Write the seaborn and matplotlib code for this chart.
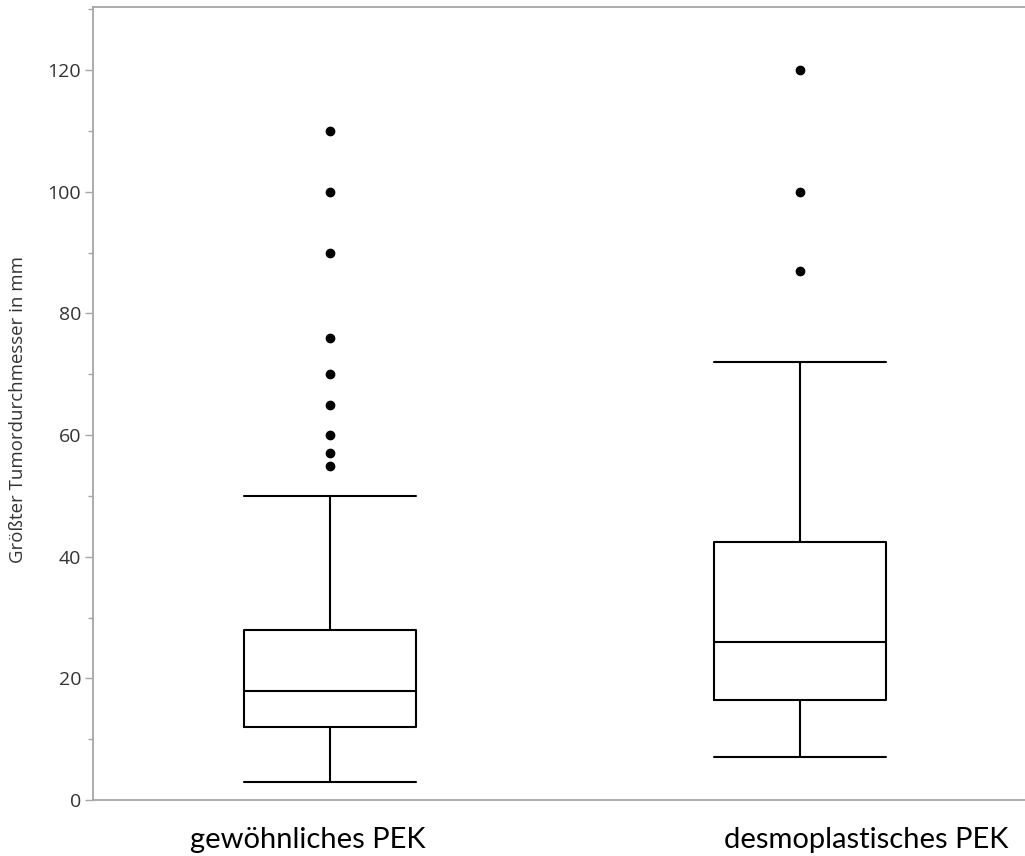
import numpy as np
import pandas as pd
import matplotlib
matplotlib.use("Agg")
import matplotlib.pyplot as plt
import matplotlib.transforms as mtransforms
import seaborn as sns
from matplotlib.ticker import MultipleLocator

categories = ["gewöhnliches PEK", "desmoplastisches PEK"]
whisker_low = [3, 7]
q1 = [12, 16.4]
median = [18, 26]
q3 = [28, 42.4]
whisker_high = [50, 72]
outliers = [
    [55, 57, 60, 65, 70, 76, 90, 100, 110],
    [87, 100, 120],
]
y_label = "Größter Tumordurchmesser in mm"

# Build samples whose Tukey box statistics reproduce the summary values above
rows = []
for i, cat in enumerate(categories):
    m = len(outliers[i]) + 1
    vals = ([whisker_low[i]] + [q1[i]] * m + [median[i]] * m + [q3[i]] * m
            + [whisker_high[i]] + list(outliers[i]))
    rows += [(cat, v) for v in vals]
df = pd.DataFrame(rows, columns=["group", "value"])

sns.set_theme(style="white")
plt.rcParams['font.family'] = ['Open Sans', 'DejaVu Sans']

fig = plt.figure(figsize=(10.25, 8.56), dpi=100)
ax = fig.add_axes([93 / 1025, 1 - 800 / 856, 1 - 93 / 1025, (800 - 7) / 856])

box_w = 0.366
sns.boxplot(data=df, x="group", y="value", order=categories, ax=ax,
            width=box_w, whis=1.5, fill=False, color="black", linewidth=1.5,
            capwidths=box_w,
            flierprops=dict(marker="o", markersize=6, markerfacecolor="black",
                            markeredgecolor="black"))

ax.set_xlim(-237 / 470, (1025 - 330) / 470)
ax.set_ylim(0, 130.4)
ax.yaxis.set_major_locator(MultipleLocator(20))
ax.yaxis.set_minor_locator(MultipleLocator(10))

spine_c = "#a6a6a6"
for s in ["left", "top", "bottom"]:
    ax.spines[s].set_visible(True)
    ax.spines[s].set_color(spine_c)
    ax.spines[s].set_linewidth(1.3)
ax.spines["right"].set_visible(False)

ax.tick_params(axis="y", which="major", left=True, length=5.5, width=1,
               color=spine_c, labelsize=14, labelcolor="#333333", pad=3)
ax.tick_params(axis="y", which="minor", left=True, length=3.5, width=1,
               color=spine_c)
ax.tick_params(axis="x", bottom=False, labelsize=21, labelcolor="black", pad=0)

x_offsets_px = [-22, 66]
for lbl, dx in zip(ax.get_xticklabels(), x_offsets_px):
    lbl.set_fontfamily(["Lato", "DejaVu Sans"])
    lbl.set_va("baseline")
    lbl.set_transform(lbl.get_transform() + mtransforms.ScaledTranslation(
        dx / 100, -40 / 100, fig.dpi_scale_trans))

ax.set_xlabel("")
ax.set_ylabel(y_label, fontsize=13.4, color="#333333")
ax.yaxis.set_label_coords(-0.071, 0.492)

fig.savefig("out.png", dpi=100)
